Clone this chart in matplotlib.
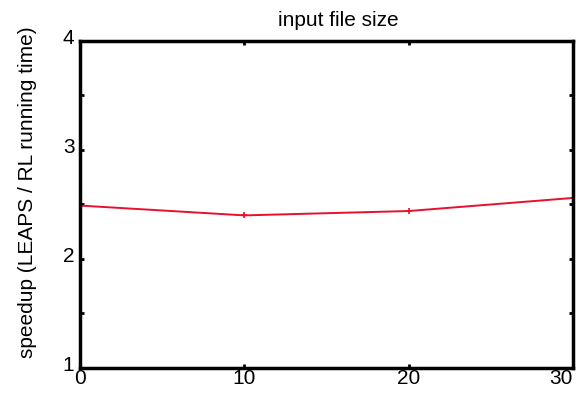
import matplotlib
matplotlib.use("Agg")
import matplotlib.pyplot as plt
from matplotlib.ticker import MultipleLocator
from matplotlib.transforms import ScaledTranslation

plt.rcParams["font.family"] = ["Liberation Sans", "DejaVu Sans"]

FILE_SIZE = [0, 10, 20, 30]
SPEEDUP = [2.49, 2.40, 2.44, 2.56]
X_TICKS = [0, 10, 20, 30]
Y_TICKS = [1, 2, 3, 4]

fig = plt.figure(figsize=(5.82, 3.94), dpi=100)
ax = fig.add_axes([0.1375, 0.066, 0.847, 0.830])

ax.plot(FILE_SIZE, SPEEDUP, color="#e8102e", lw=1.4, marker="+", ms=4, mew=1.2)

ax.set_xlim(0, 30)
ax.set_ylim(1, 4)
ax.set_xticks(X_TICKS)
ax.set_yticks(Y_TICKS)
ax.yaxis.set_minor_locator(MultipleLocator(0.5))
ax.tick_params(direction="in", length=3, width=2, labelsize=15,
               top=True, right=True)
ax.tick_params(axis="x", pad=1)
ax.tick_params(axis="y", pad=4)
ax.tick_params(axis="y", which="minor", direction="in", length=3, width=2,
               right=True)
for spine in ax.spines.values():
    spine.set_linewidth(2.5)

xlabels = ax.get_xticklabels()
xlabels[-1].set_horizontalalignment("right")

shift_up = ScaledTranslation(0, 3 / 72, fig.dpi_scale_trans)
for lab in ax.get_yticklabels():
    lab.set_transform(lab.get_transform() + shift_up)

title = ax.set_title("input file size", fontsize=15, pad=11)
title.set_x(0.523)
ax.set_ylabel("speedup (LEAPS / RL running time)", fontsize=15)
ax.yaxis.set_label_coords(-0.087, 0.538)

fig.savefig("out.png", dpi=100)
